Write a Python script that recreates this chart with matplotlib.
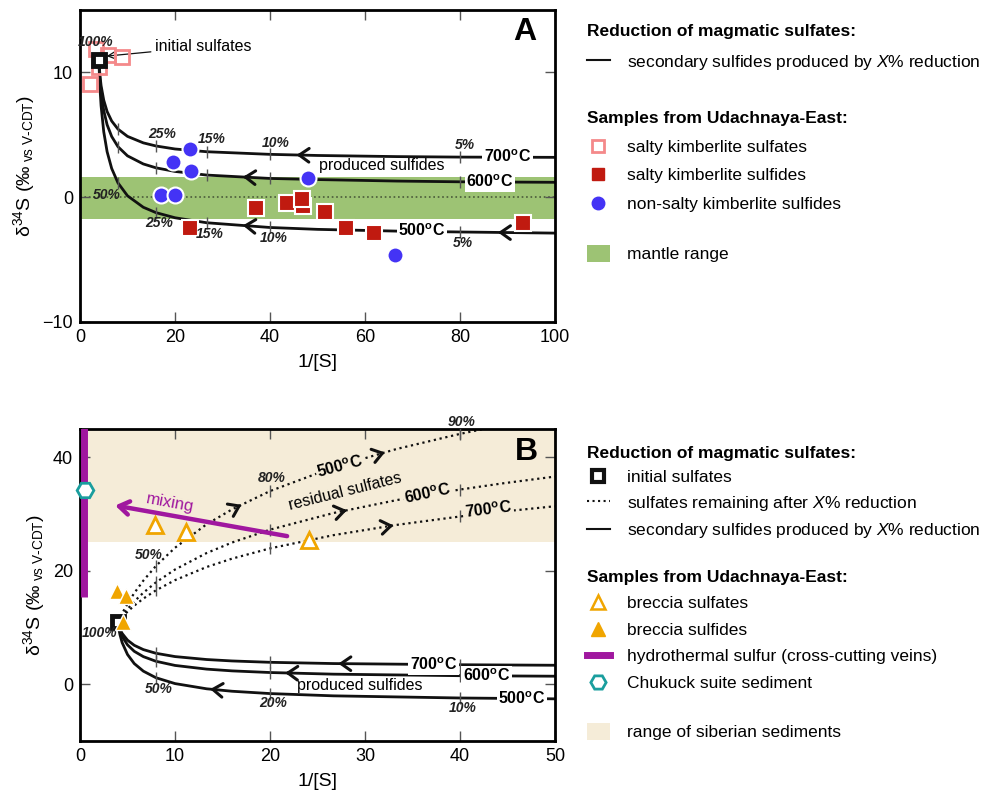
import numpy as np
import matplotlib.pyplot as plt
from matplotlib.lines import Line2D
from matplotlib.patches import Patch

plt.rcParams['font.family'] = ['Liberation Sans', 'DejaVu Sans']
plt.rcParams['mathtext.fontset'] = 'custom'
plt.rcParams['mathtext.rm'] = 'Liberation Sans'
plt.rcParams['mathtext.it'] = 'Liberation Sans:italic'
plt.rcParams['mathtext.bf'] = 'Liberation Sans:bold'

# ---- reduction model ----
# secondary sulfides: % of initial sulfate reduced, 1/[S], d34S at 500/600/700 C
sulfide_pct = [100, 98, 95, 90, 80, 70, 60, 50, 40, 30, 25, 20, 15, 10, 8, 6, 5, 4]
sulfide_x = [4, 4.08, 4.21, 4.44, 5, 5.71, 6.67, 8, 10, 13.33, 16, 20, 26.67, 40, 50, 66.67, 80, 100]
sulfide_500 = [11, 9.84, 8.72, 7.32, 5.24, 3.64, 2.30, 1.14, 0.11, -0.81, -1.24, -1.65, -2.05, -2.43, -2.58, -2.72, -2.79, -2.88]
sulfide_600 = [11, 10.19, 9.40, 8.41, 6.94, 5.80, 4.86, 4.04, 3.31, 2.66, 2.35, 2.06, 1.77, 1.50, 1.41, 1.29, 1.23, 1.19]
sulfide_700 = [11, 10.35, 9.73, 8.94, 7.77, 6.86, 6.10, 5.45, 4.87, 4.35, 4.10, 3.86, 3.64, 3.43, 3.34, 3.25, 3.21, 3.19]

# residual sulfates: % reduced, 1/[S], d34S
sulfate_pct = [0, 10, 20, 30, 40, 50, 60, 70, 75, 80, 85, 88, 90, 91, 92]
sulfate_x = [4, 4.44, 5, 5.71, 6.67, 8, 10, 13.33, 16, 20, 26.67, 33.33, 40, 44.44, 50]
sulfate_500 = [11, 12.49, 14.16, 16.06, 18.26, 20.86, 24.05, 28.19, 30.81, 34.04, 38.21, 41.46, 44.12, 45.66, 47.39]
sulfate_600 = [11, 12.06, 13.24, 14.58, 16.13, 17.96, 20.21, 23.12, 24.97, 27.24, 30.17, 32.45, 34.31, 35.39, 36.60]
sulfate_700 = [11, 11.84, 12.78, 13.85, 15.09, 16.55, 18.34, 20.66, 22.13, 23.94, 26.27, 28.08, 29.56, 30.42, 31.37]

initial_x, initial_y = [4], [11]

# ---- panel A samples ----
salty_sulfate_x = [2.1, 4.1, 3.4, 6.0, 8.8]
salty_sulfate_y = [9.1, 10.4, 11.9, 11.4, 11.25]
salty_sulfide_x = [23.2, 37.0, 43.5, 47.0, 46.8, 51.6, 56.1, 61.8, 93.2]
salty_sulfide_y = [-2.5, -0.9, -0.5, -0.7, -0.15, -1.2, -2.47, -2.9, -2.06]
nonsalty_x = [23.2, 19.5, 23.4, 48.1, 17.0, 20.0, 66.3]
nonsalty_y = [3.83, 2.84, 2.09, 1.5, 0.2, 0.16, -4.6]
mantle_range = [-1.75, 1.65]

# ---- panel B samples ----
breccia_sulfate_x = [7.9, 11.2, 24.1]
breccia_sulfate_y = [28.0, 26.8, 25.5]
breccia_sulfide_x = [3.9, 4.85, 4.5]
breccia_sulfide_y = [16.4, 15.5, 11.0]
hydro_x = [0.4, 0.4]
hydro_y = [15.4, 46]
chukuck_x, chukuck_y = [0.5], [34.2]
sediment_range = [25, 45]
mixing_from = (21.8, 26.1)
mixing_to = (3.7, 31.5)

BLACK = '#111111'
PINK = '#F4898A'
RED = '#C01A10'
BLUE = '#4433F5'
GREEN = '#9DC374'
BEIGE = '#F5ECD8'
ORANGE = '#F0A500'
PURPLE = '#A0179F'
TEAL = '#1A9E9E'
FS = 12.5


def style_axes(ax):
    for s in ax.spines.values():
        s.set_linewidth(2)
    ax.tick_params(direction='in', length=7, width=1, color='#555555',
                   top=True, right=True, labelsize=13, pad=5)
    ax.set_xlabel('1/[S]', fontsize=14, labelpad=6)
    ax.set_ylabel(r'δ$^{34}$S (‰$_{\text{ vs V-CDT}}$)', fontsize=14, labelpad=4)


def chevron(ax, x, xs, ys, direction, dx):
    y0 = np.interp(x, xs, ys)
    y1 = np.interp(x - direction * dx, xs, ys)
    ax.annotate('', xy=(x, y0), xytext=(x - direction * dx, y1),
                arrowprops=dict(arrowstyle='->,head_length=0.5,head_width=0.35',
                                lw=2.2, color=BLACK, shrinkA=0, shrinkB=0,
                                mutation_scale=14), zorder=4)


def curve_ticks(ax, xs, ys, pct, tick_pct):
    sel = np.isin(pct, tick_pct)
    ax.plot(np.array(xs)[sel], np.array(ys)[sel], ls='none', marker='|',
            ms=9, mew=1, color='#555555', zorder=3)


def pct_label(ax, x, y, s):
    ax.text(x, y, s, fontsize=10, fontweight='bold', style='italic',
            color='#222222', ha='center', va='center', zorder=6)


def temp_label(ax, x, y, s, bg='white', rot=0):
    ax.text(x, y, s + r'$^{\mathbf{o}}$C', fontsize=11.5, fontweight='bold',
            ha='center', va='center', rotation=rot, zorder=5,
            bbox=dict(facecolor=bg, edgecolor='none', pad=1.2))


fig = plt.figure(figsize=(9.9, 7.95), dpi=100)
axA = fig.add_axes([0.0808, 0.595, 0.4798, 0.3925])
axB = fig.add_axes([0.0808, 0.068, 0.4798, 0.3925])

# ================= Panel A =================
axA.axhspan(mantle_range[0], mantle_range[1], color=GREEN, lw=0, zorder=0)
axA.axhline(0, color='#4a5a3a', ls=':', lw=1.2, zorder=1)
for ys in (sulfide_500, sulfide_600, sulfide_700):
    axA.plot(sulfide_x, ys, color=BLACK, lw=2, zorder=2)
    curve_ticks(axA, sulfide_x, ys, sulfide_pct, [50, 25, 15, 10, 5])
chevron(axA, 45.6, sulfide_x, sulfide_700, -1, 0.8)
chevron(axA, 34.3, sulfide_x, sulfide_600, -1, 0.8)
chevron(axA, 34.3, sulfide_x, sulfide_500, -1, 0.8)
chevron(axA, 88, sulfide_x, sulfide_500, -1, 0.8)

axA.plot(salty_sulfate_x, salty_sulfate_y, ls='none', marker='s', ms=10,
         mfc='none', mec=PINK, mew=2, zorder=6)
axA.plot(initial_x, initial_y, ls='none', marker='s', ms=9, mfc='white',
         mec=BLACK, mew=3.5, zorder=7)
axA.plot(salty_sulfide_x, salty_sulfide_y, ls='none', marker='s', ms=11,
         mfc=RED, mec='white', mew=1.5, zorder=6)
axA.plot(nonsalty_x, nonsalty_y, ls='none', marker='o', ms=11.5,
         mfc=BLUE, mec='white', mew=1.5, zorder=6)

temp_label(axA, 90, 3.28, '700')
temp_label(axA, 86.3, 1.22, '600')
temp_label(axA, 72, -2.72, '500')
axA.text(63.5, 2.55, 'produced sulfides', fontsize=11.5, ha='center', va='center')
axA.annotate('initial sulfates', xy=(5.6, 11.3), xytext=(15.8, 12.05),
             fontsize=11.5, va='center',
             arrowprops=dict(arrowstyle='->', lw=0.9, color=BLACK,
                             shrinkA=1, shrinkB=0))
pct_label(axA, 3.2, 12.45, '100%')
pct_label(axA, 17.2, 5.06, '25%')
pct_label(axA, 27.7, 4.65, '15%')
pct_label(axA, 41.3, 4.36, '10%')
pct_label(axA, 81, 4.2, '5%')
pct_label(axA, 5.7, 0.2, '50%')
pct_label(axA, 16.7, -2.06, '25%')
pct_label(axA, 27.4, -2.95, '15%')
pct_label(axA, 40.8, -3.3, '10%')
pct_label(axA, 80.7, -3.67, '5%')
axA.text(93.7, 13.25, 'A', fontsize=23, fontweight='bold', ha='center', va='center')

axA.set_xlim(0, 100)
axA.set_ylim(-10, 15)
axA.set_xticks([0, 20, 40, 60, 80, 100])
axA.set_yticks([-10, 0, 10])
style_axes(axA)

# ================= Panel B =================
axB.axhspan(sediment_range[0], sediment_range[1], color=BEIGE, lw=0, zorder=0)
axB.plot(hydro_x, hydro_y, color=PURPLE, lw=5, solid_capstyle='butt', zorder=3)
for ys in (sulfide_500, sulfide_600, sulfide_700):
    axB.plot(sulfide_x, ys, color=BLACK, lw=2, zorder=2)
    curve_ticks(axB, sulfide_x, ys, sulfide_pct, [50, 20, 10])
for ys in (sulfate_500, sulfate_600, sulfate_700):
    axB.plot(sulfate_x, ys, color=BLACK, lw=1.6, ls=':', zorder=2)
    curve_ticks(axB, sulfate_x, ys, sulfate_pct, [50, 80, 90])
chevron(axB, 27.2, sulfide_x, sulfide_700, -1, 0.4)
chevron(axB, 21.6, sulfide_x, sulfide_600, -1, 0.4)
chevron(axB, 13.7, sulfide_x, sulfide_500, -1, 0.4)
chevron(axB, 17.0, sulfate_x, sulfate_500, 1, 0.4)
chevron(axB, 32.1, sulfate_x, sulfate_500, 1, 0.4)
chevron(axB, 28.1, sulfate_x, sulfate_600, 1, 0.4)
chevron(axB, 33.0, sulfate_x, sulfate_700, 1, 0.4)

axB.annotate('', xy=mixing_to, xytext=mixing_from,
             arrowprops=dict(arrowstyle='->,head_length=0.45,head_width=0.3',
                             lw=3.2, color=PURPLE, shrinkA=0, shrinkB=0,
                             mutation_scale=16), zorder=5)
axB.text(9.5, 31.9, 'mixing', color=PURPLE, fontsize=12, rotation=-10.5,
         ha='center', va='center')

axB.plot(initial_x, initial_y, ls='none', marker='s', ms=9, mfc='white',
         mec=BLACK, mew=3.5, zorder=6)
axB.plot(breccia_sulfate_x, breccia_sulfate_y, ls='none', marker='^', ms=11,
         mfc='white', mec=ORANGE, mew=2, zorder=6)
axB.plot(breccia_sulfide_x, breccia_sulfide_y, ls='none', marker='^', ms=11,
         mfc=ORANGE, mec='white', mew=1, zorder=7)
axB.plot(chukuck_x, chukuck_y, ls='none', marker='H', ms=12, mfc='white',
         mec=TEAL, mew=2, zorder=7, clip_on=False)

temp_label(axB, 37.2, 3.45, '700')
temp_label(axB, 42.8, 1.45, '600')
temp_label(axB, 46.5, -2.6, '500')
temp_label(axB, 27.4, 38.4, '500', bg=BEIGE, rot=15)
temp_label(axB, 36.6, 33.6, '600', bg=BEIGE, rot=12)
temp_label(axB, 43.0, 30.7, '700', bg=BEIGE, rot=7)
axB.text(27.9, 34.0, 'residual sulfates', fontsize=11.5, rotation=14,
         ha='center', va='center')
axB.text(29.5, -0.2, 'produced sulfides', fontsize=11.5, ha='center', va='center')
pct_label(axB, 2.1, 9.0, '100%')
pct_label(axB, 7.2, 22.7, '50%')
pct_label(axB, 20.2, 36.3, '80%')
axB.text(40.2, 46.2, '90%', fontsize=10, fontweight='bold', style='italic',
         color='#222222', ha='center', va='center', clip_on=False)
pct_label(axB, 8.3, -0.9, '50%')
pct_label(axB, 20.3, -3.3, '20%')
pct_label(axB, 40.3, -4.2, '10%')
axB.text(47.0, 41.0, 'B', fontsize=23, fontweight='bold', ha='center', va='center')

axB.set_xlim(0, 50)
axB.set_ylim(-10, 45)
axB.set_xticks([0, 10, 20, 30, 40, 50])
axB.set_yticks([0, 20, 40])
style_axes(axB)

# ================= legends =================
leg_kw = dict(frameon=False, fontsize=FS, loc='upper left', alignment='left',
              handlelength=1.3, handletextpad=1.0, borderpad=0, borderaxespad=0,
              title_fontproperties={'weight': 'bold', 'size': FS})
X = 587 / 990


def fy(py):
    return 1 - py / 795


solid = Line2D([], [], color=BLACK, lw=1.5)
dotted = Line2D([], [], color=BLACK, lw=1.5, ls=':')
xred = r'secondary sulfides produced by $\mathit{X}$% reduction'

fig.legend([solid], [xred], title='Reduction of magmatic sulfates:',
           bbox_to_anchor=(X, fy(24)), labelspacing=0.78, **leg_kw)
fig.legend([Line2D([], [], ls='none', marker='s', ms=9, mfc='white', mec=PINK, mew=2),
            Line2D([], [], ls='none', marker='s', ms=8.5, mfc=RED, mec=RED),
            Line2D([], [], ls='none', marker='o', ms=9, mfc=BLUE, mec=BLUE)],
           ['salty kimberlite sulfates', 'salty kimberlite sulfides',
            'non-salty kimberlite sulfides'],
           title='Samples from Udachnaya-East:', bbox_to_anchor=(X, fy(111)),
           labelspacing=0.78, **leg_kw)
fig.legend([Patch(facecolor=GREEN, edgecolor='none')], ['mantle range'],
           bbox_to_anchor=(X, fy(245)), handleheight=1.1, **leg_kw)

fig.legend([Line2D([], [], ls='none', marker='s', ms=8.5, mfc='white', mec=BLACK, mew=3),
            dotted, solid],
           ['initial sulfates', r'sulfates remaining after $\mathit{X}$% reduction', xred],
           title='Reduction of magmatic sulfates:', bbox_to_anchor=(X, fy(446)),
           labelspacing=0.5, **leg_kw)
fig.legend([Line2D([], [], ls='none', marker='^', ms=10, mfc='white', mec=ORANGE, mew=1.8),
            Line2D([], [], ls='none', marker='^', ms=10, mfc=ORANGE, mec=ORANGE),
            Line2D([], [], color=PURPLE, lw=5),
            Line2D([], [], ls='none', marker='H', ms=11, mfc='white', mec=TEAL, mew=2)],
           ['breccia sulfates', 'breccia sulfides',
            'hydrothermal sulfur (cross-cutting veins)', 'Chukuck suite sediment'],
           title='Samples from Udachnaya-East:', bbox_to_anchor=(X, fy(570)),
           labelspacing=0.65, **leg_kw)
fig.legend([Patch(facecolor=BEIGE, edgecolor='none')], ['range of siberian sediments'],
           bbox_to_anchor=(X, fy(723)), handleheight=1.1, **leg_kw)

fig.savefig('out.png', dpi=100)
